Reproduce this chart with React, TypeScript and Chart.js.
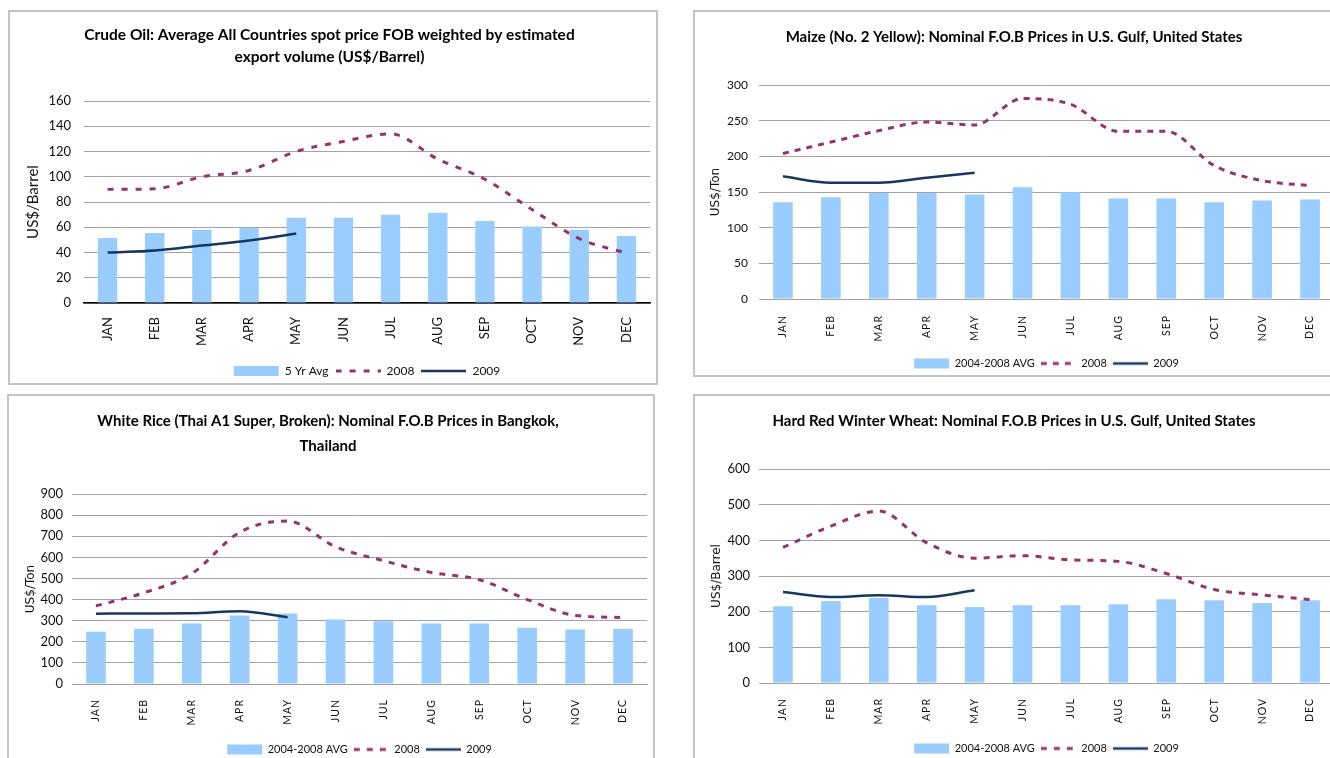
import React, { useEffect, useRef } from "react";
import { Chart, registerables } from "chart.js";

Chart.register(...registerables);

// ---------- DATA ----------
const MONTHS = ["JAN", "FEB", "MAR", "APR", "MAY", "JUN", "JUL", "AUG", "SEP", "OCT", "NOV", "DEC"];

// Crude oil (US$/Barrel)
const CRUDE_AVG = [51.5, 55.5, 58, 59.5, 67.5, 67.5, 70, 71.5, 65, 60.5, 58, 53];
const CRUDE_2008 = [90, 90.5, 100, 105, 120, 128, 134, 114, 98, 74, 51, 39.5];
const CRUDE_2009 = [40, 41.5, 45.5, 49.5, 55, null, null, null, null, null, null, null];

// Maize (US$/Ton)
const MAIZE_AVG = [135.5, 142.5, 148.5, 148.5, 146.5, 156.5, 149.5, 141, 141, 135.5, 138, 139.5];
const MAIZE_2008 = [204, 220, 236, 248, 244, 281, 273, 235, 235, 187, 166, 159];
const MAIZE_2009 = [172, 163, 163, 170, 177, null, null, null, null, null, null, null];

// White rice (US$/Ton)
const RICE_AVG = [248, 262, 286, 325, 334, 305, 297, 286, 286, 267, 258, 262];
const RICE_2008 = [370, 432, 523, 719, 772, 650, 584, 528, 494, 400, 325, 315];
const RICE_2009 = [333, 334, 335, 345, 316, null, null, null, null, null, null, null];

// Hard red winter wheat
const WHEAT_AVG = [215, 230, 238, 218, 213, 218, 218, 221, 235, 232, 224, 232];
const WHEAT_2008 = [380, 440, 482, 393, 350, 357, 345, 341, 307, 262, 247, 234];
const WHEAT_2009 = [255, 241, 246, 241, 260, null, null, null, null, null, null, null];

// ---------- STYLE ----------
const FONT = "Lato, 'Open Sans', sans-serif";
const WIDE_FONT = "'DejaVu Sans', sans-serif";
const BAR_COLOR = "#99ccff";
const COLOR_2008 = "#953567";
const COLOR_2009 = "#17375e";
const GRID = "#a3a3a3";
const FRAME = "#c4c4c4";

type Box = { x: number; y: number; w: number; h: number };
type Cfg = {
  title: string[];
  titleFont: number;
  titleLH: number;
  titlePadTop: number;
  titlePadBottom: number;
  yTitle: string;
  yTitleFamily: string;
  yTitleFont: number;
  yTitlePad: number;
  barLabel: string;
  bars: number[];
  y2008: number[];
  y2009: (number | null)[];
  yMax: number;
  yStep: number;
  frame: Box;
  canvas: Box;
  yW: number;
  padRight: number;
  xH: number;
  yTickFont: number;
  yTickPad: number;
  xTickFont: number;
  xTickPad: number;
  xSpacing: string;
  legendFont: number;
  legendPad: number;
  swatchW: number;
  zeroColor: string;
  zeroWidth: number;
  dash: number[];
};

const CHARTS: Cfg[] = [
  {
    title: ["Crude Oil: Average All Countries spot price FOB weighted by estimated", "export volume (US$/Barrel)"],
    titleFont: 15.5, titleLH: 22, titlePadTop: 13, titlePadBottom: 33,
    yTitle: "US$/Barrel", yTitleFamily: FONT, yTitleFont: 15, yTitlePad: 15,
    barLabel: "5 Yr Avg", bars: CRUDE_AVG, y2008: CRUDE_2008, y2009: CRUDE_2009,
    yMax: 160, yStep: 20,
    frame: { x: 8, y: 10, w: 650, h: 375 },
    canvas: { x: 9, y: 11, w: 648, h: 376 },
    yW: 75, padRight: 7, xH: 55,
    yTickFont: 13, yTickPad: 13, xTickFont: 13, xTickPad: 14, xSpacing: "0px",
    legendFont: 12, legendPad: 7, swatchW: 45,
    zeroColor: "#000000", zeroWidth: 1.5, dash: [6, 8],
  },
  {
    title: ["Maize (No. 2 Yellow): Nominal F.O.B Prices in U.S. Gulf, United States"],
    titleFont: 15, titleLH: 22, titlePadTop: 15, titlePadBottom: 37,
    yTitle: "US$/Ton", yTitleFamily: WIDE_FONT, yTitleFont: 12, yTitlePad: 15,
    barLabel: "2004-2008 AVG", bars: MAIZE_AVG, y2008: MAIZE_2008, y2009: MAIZE_2009,
    yMax: 300, yStep: 50,
    frame: { x: 693, y: 10, w: 655, h: 367 },
    canvas: { x: 694, y: 11, w: 649, h: 368 },
    yW: 65, padRight: 9, xH: 53,
    yTickFont: 12, yTickPad: 11, xTickFont: 10.5, xTickPad: 16, xSpacing: "1px",
    legendFont: 11, legendPad: 6, swatchW: 35,
    zeroColor: GRID, zeroWidth: 1, dash: [6, 6],
  },
  {
    title: ["White Rice (Thai A1 Super, Broken): Nominal F.O.B Prices in Bangkok,", "Thailand"],
    titleFont: 15, titleLH: 25, titlePadTop: 14, titlePadBottom: 35,
    yTitle: "US$/Ton", yTitleFamily: WIDE_FONT, yTitleFont: 12, yTitlePad: 14.5,
    barLabel: "2004-2008 AVG", bars: RICE_AVG, y2008: RICE_2008, y2009: RICE_2009,
    yMax: 900, yStep: 100,
    frame: { x: 7, y: 394, w: 648, h: 400 },
    canvas: { x: 9, y: 395, w: 645, h: 370 },
    yW: 63, padRight: 7, xH: 54,
    yTickFont: 13, yTickPad: 9, xTickFont: 10.5, xTickPad: 15, xSpacing: "1px",
    legendFont: 11, legendPad: 6, swatchW: 35,
    zeroColor: GRID, zeroWidth: 1, dash: [6, 7],
  },
  {
    title: ["Hard Red Winter Wheat: Nominal F.O.B Prices in U.S. Gulf, United States"],
    titleFont: 15, titleLH: 22, titlePadTop: 15, titlePadBottom: 37,
    yTitle: "US$/Barrel", yTitleFamily: WIDE_FONT, yTitleFont: 12, yTitlePad: 15.5,
    barLabel: "2004-2008 AVG", bars: WHEAT_AVG, y2008: WHEAT_2008, y2009: WHEAT_2009,
    yMax: 600, yStep: 100,
    frame: { x: 693, y: 394, w: 655, h: 400 },
    canvas: { x: 694, y: 395, w: 649, h: 369 },
    yW: 65, padRight: 9, xH: 54,
    yTickFont: 13, yTickPad: 9, xTickFont: 10.5, xTickPad: 15, xSpacing: "1px",
    legendFont: 11, legendPad: 6, swatchW: 35,
    zeroColor: GRID, zeroWidth: 1, dash: [6, 7],
  },
];

// small offscreen images used as legend swatches for the two line series
function lineSwatch(w: number, color: string, width: number, dash: number[]) {
  const cv = document.createElement("canvas");
  cv.width = w;
  cv.height = 6;
  const ctx = cv.getContext("2d") as CanvasRenderingContext2D;
  ctx.strokeStyle = color;
  ctx.lineWidth = width;
  ctx.lineCap = "butt";
  ctx.setLineDash(dash);
  ctx.beginPath();
  ctx.moveTo(0, 3);
  ctx.lineTo(w, 3);
  ctx.stroke();
  return cv;
}

// letter spacing for the category labels (drawn after the datasets, z = 1)
const spacingPlugin = {
  id: "labelSpacing",
  afterDatasetsDraw(chart: any, _args: any, opts: any) {
    if (opts && opts.spacing) (chart.ctx as any).letterSpacing = opts.spacing;
  },
  afterDraw(chart: any) {
    (chart.ctx as any).letterSpacing = "0px";
  },
};

// centre the legend on the plot area (as the original does)
const legendCenterPlugin = {
  id: "legendCenter",
  afterLayout(chart: any) {
    const lg = chart.legend;
    const ca = chart.chartArea;
    if (!lg || !ca) return;
    const dx = (ca.left + ca.right) / 2 - (lg.left + lg.right) / 2;
    lg.left += dx;
    lg.right += dx;
  },
};

function PriceChart({ cfg }: { cfg: Cfg }) {
  const ref = useRef<HTMLCanvasElement | null>(null);

  useEffect(() => {
    const c = cfg;
    const sw2008 = lineSwatch(c.swatchW, COLOR_2008, 3, c.dash);
    const sw2009 = lineSwatch(c.swatchW, COLOR_2009, 2.5, []);
    const chart = new Chart(ref.current as HTMLCanvasElement, {
      type: "bar",
      data: {
        labels: MONTHS,
        datasets: [
          {
            type: "bar",
            label: c.barLabel,
            data: c.bars,
            backgroundColor: BAR_COLOR,
            borderWidth: 0,
            barPercentage: 0.41,
            categoryPercentage: 1,
            order: 2,
          } as any,
          {
            type: "line",
            label: "2008",
            data: c.y2008,
            borderColor: COLOR_2008,
            backgroundColor: COLOR_2008,
            borderWidth: 3,
            borderDash: c.dash,
            pointRadius: 0,
            cubicInterpolationMode: "monotone",
            fill: false,
            order: 1,
          } as any,
          {
            type: "line",
            label: "2009",
            data: c.y2009,
            borderColor: COLOR_2009,
            backgroundColor: COLOR_2009,
            borderWidth: 2.5,
            pointRadius: 0,
            cubicInterpolationMode: "monotone",
            fill: false,
            order: 0,
          } as any,
        ],
      },
      options: {
        responsive: false,
        animation: false,
        devicePixelRatio: 1,
        layout: { padding: { left: 0, right: c.padRight, top: 0, bottom: 0 }, autoPadding: false },
        scales: {
          x: {
            grid: { display: false, drawTicks: false },
            border: { display: true, color: c.zeroColor, width: c.zeroWidth, z: 0 },
            ticks: {
              minRotation: 90,
              maxRotation: 90,
              autoSkip: false,
              padding: c.xTickPad,
              color: "#111111",
              font: { family: FONT, size: c.xTickFont },
              z: 1,
            },
            afterFit: (s: any) => {
              s.height = c.xH;
            },
          },
          y: {
            min: 0,
            max: c.yMax,
            grid: { color: GRID, lineWidth: 1, drawTicks: false },
            border: { display: false },
            ticks: {
              stepSize: c.yStep,
              padding: c.yTickPad,
              color: "#111111",
              font: { family: FONT, size: c.yTickFont },
            },
            title: {
              display: true,
              text: c.yTitle,
              color: "#111111",
              font: { family: c.yTitleFamily, size: c.yTitleFont, lineHeight: 1.2 },
              padding: { top: c.yTitlePad, bottom: 0 },
            },
            afterFit: (s: any) => {
              s.width = c.yW;
            },
          },
        },
        plugins: {
          tooltip: { enabled: false },
          labelSpacing: { spacing: c.xSpacing },
          title: {
            display: true,
            text: c.title,
            color: "#000000",
            font: { family: FONT, size: c.titleFont, weight: "bold", lineHeight: c.titleLH + "px" },
            padding: { top: c.titlePadTop, bottom: c.titlePadBottom },
          },
          legend: {
            display: true,
            position: "bottom",
            labels: {
              usePointStyle: true,
              pointStyleWidth: c.swatchW,
              boxHeight: 10,
              padding: c.legendPad,
              color: "#111111",
              font: { family: FONT, size: c.legendFont },
              sort: (a: any, b: any) => a.datasetIndex - b.datasetIndex,
              generateLabels: (ch: any) => {
                const items = (Chart.defaults.plugins.legend.labels as any).generateLabels(ch);
                return items.map((it: any) => {
                  if (it.datasetIndex === 0) return { ...it, pointStyle: "rect", lineWidth: 0, lineDash: [] };
                  return { ...it, pointStyle: it.datasetIndex === 1 ? sw2008 : sw2009 };
                });
              },
            },
          },
        } as any,
      },
      plugins: [spacingPlugin, legendCenterPlugin],
    });
    return () => chart.destroy();
  }, [cfg]);

  return (
    <canvas
      ref={ref}
      width={cfg.canvas.w}
      height={cfg.canvas.h}
      style={{
        position: "absolute",
        left: cfg.canvas.x,
        top: cfg.canvas.y,
        width: cfg.canvas.w,
        height: cfg.canvas.h,
      }}
    />
  );
}

export default function App() {
  return (
    <div
      style={{
        position: "fixed",
        left: 0,
        top: 0,
        width: 1330,
        height: 758,
        overflow: "hidden",
        background: "#ffffff",
      }}
    >
      {CHARTS.map((c, i) => (
        <div
          key={"f" + i}
          style={{
            position: "absolute",
            left: c.frame.x,
            top: c.frame.y,
            width: c.frame.w,
            height: c.frame.h,
            border: `2px solid ${FRAME}`,
            boxSizing: "border-box",
            background: "#ffffff",
          }}
        />
      ))}
      {CHARTS.map((c, i) => (
        <PriceChart key={"c" + i} cfg={c} />
      ))}
    </div>
  );
}
